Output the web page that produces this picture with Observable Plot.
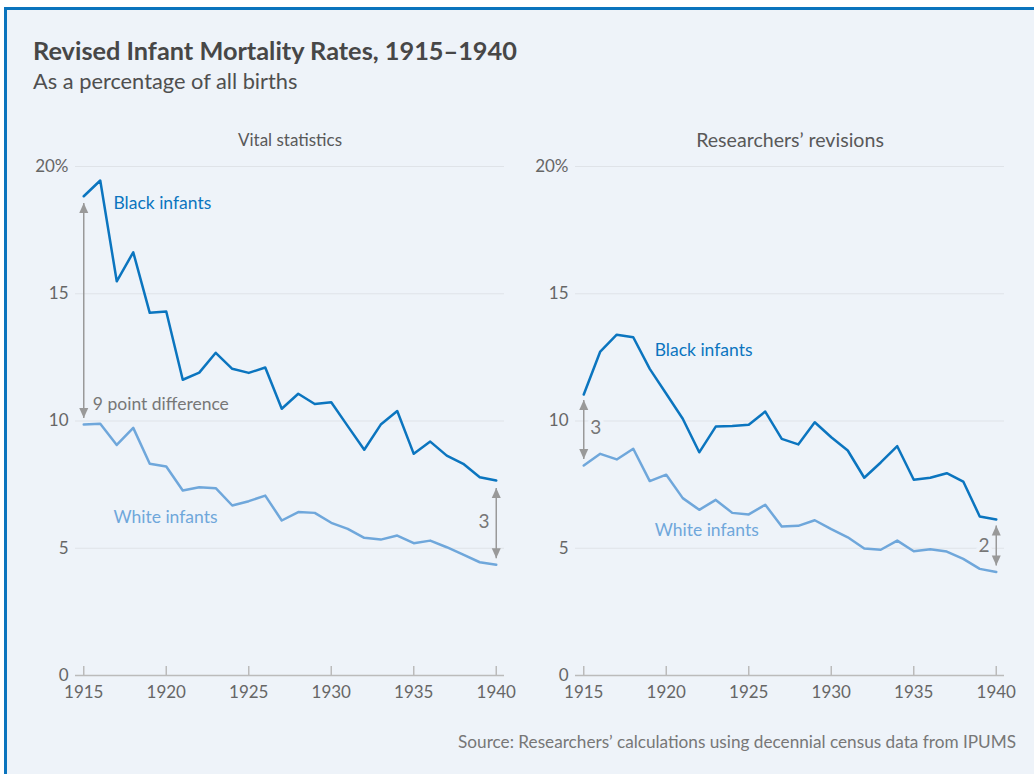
<!DOCTYPE html>
<html>
<head>
<meta charset="utf-8">
<script src="https://cdn.jsdelivr.net/npm/d3@7"></script>
<script src="https://cdn.jsdelivr.net/npm/@observablehq/plot@0.6"></script>
<style>
  html, body { margin: 0; padding: 0; background: #ffffff; width: 1034px; height: 774px; overflow: hidden; }
  #frame { position: absolute; left: 4px; top: 7px; width: 1040px; height: 780px;
           border-left: 3px solid #0b74bd; border-top: 3px solid #0b74bd; background: #eef3f9; }
  .abs { position: absolute; font-family: Lato, "Open Sans", sans-serif; }
  #title { left: 33px; top: 35px; font-size: 25.3px; font-weight: 700; color: #474747; white-space: nowrap; }
  #subtitle { left: 33px; top: 67px; font-size: 21.8px; color: #4f4f4f; white-space: nowrap; }
  #source { right: 18px; top: 731px; font-size: 17.2px; color: #777; white-space: nowrap; }
  #left { left: 0px; top: 120px; }
  #right { left: 500px; top: 120px; }
</style>
</head>
<body>
<div id="frame"></div>
<div id="title" class="abs">Revised Infant Mortality Rates, 1915–1940</div>
<div id="subtitle" class="abs">As a percentage of all births</div>
<div id="left" class="abs"></div>
<div id="right" class="abs"></div>
<div id="source" class="abs">Source: Researchers’ calculations using decennial census data from IPUMS</div>
<script>
// ---- data ----
const years = [1915,1916,1917,1918,1919,1920,1921,1922,1923,1924,1925,1926,1927,
               1928,1929,1930,1931,1932,1933,1934,1935,1936,1937,1938,1939,1940];
const vitalBlack = [18.83,19.45,15.49,16.63,14.25,14.30,11.62,11.90,12.68,12.05,11.89,12.10,10.48,
                    11.07,10.67,10.74,9.80,8.87,9.86,10.39,8.71,9.19,8.64,8.32,7.79,7.66];
const vitalWhite = [9.86,9.89,9.06,9.73,8.32,8.21,7.27,7.40,7.36,6.68,6.85,7.07,6.09,
                    6.42,6.39,6.00,5.76,5.41,5.34,5.50,5.20,5.30,5.04,4.75,4.45,4.35];
const revisedBlack = [11.04,12.73,13.39,13.29,12.05,11.07,10.09,8.77,9.78,9.80,9.85,10.37,9.30,
                      9.08,9.95,9.36,8.84,7.77,8.37,9.01,7.69,7.77,7.95,7.62,6.25,6.13];
const revisedWhite = [8.25,8.71,8.49,8.91,7.64,7.89,6.97,6.51,6.90,6.39,6.33,6.71,5.85,
                      5.88,6.10,5.75,5.43,4.99,4.94,5.30,4.88,4.96,4.87,4.58,4.19,4.07];
const panelTitles = ["Vital statistics", "Researchers’ revisions"];
const seriesNames = ["Black infants", "White infants"];
const yTicks = [0, 5, 10, 15, 20];
const xTicks = [1915, 1920, 1925, 1930, 1935, 1940];
// series label anchor positions (year, value)
const vitalLabels = [{year: 1916.8, value: 18.55, name: "Black infants"}, {year: 1916.8, value: 6.2, name: "White infants"}];
const revisedLabels = [{year: 1919.3, value: 12.78, name: "Black infants"}, {year: 1919.3, value: 5.72, name: "White infants"}];
// gap arrows: year, upper tip, lower tip
const vitalArrows = [{year: 1915, top: 18.57, bottom: 10.12}, {year: 1940, top: 7.37, bottom: 4.61}];
const revisedArrows = [{year: 1915, top: 10.83, bottom: 8.51}, {year: 1940, top: 5.89, bottom: 4.32}];
// gap notes
const vitalNotes = [{year: 1915.55, value: 10.65, text: "9 point difference", anchor: "start", size: 17.5},
                    {year: 1939.6, value: 6.02, text: "3", anchor: "end", size: 19}];
const revisedNotes = [{year: 1915.4, value: 9.72, text: "3", anchor: "start", size: 19},
                      {year: 1939.6, value: 5.08, text: "2", anchor: "end", size: 19}];

// ---- styles ----
const BG = "#eef3f9";
const C_BLACK = "#0b75bf";
const C_WHITE = "#6fa7db";
const GREY = "#999999";
const FONT = "Lato, 'Open Sans', sans-serif";

const tipUp = {draw(ctx) { ctx.moveTo(0, 0); ctx.lineTo(4.5, 10); ctx.lineTo(-4.5, 10); ctx.closePath(); }};
const tipDown = {draw(ctx) { ctx.moveTo(0, 0); ctx.lineTo(4.5, -10); ctx.lineTo(-4.5, -10); ctx.closePath(); }};

function noteMarks(notes, anchor) {
  return Plot.text(notes.filter(d => d.anchor === anchor), {
    x: "year", y: "value", text: "text", textAnchor: anchor, fontSize: d => d.size,
    fill: "#777", stroke: BG, strokeWidth: 8
  });
}

function panel(title, black, white, labels, arrows, notes, titleSize) {
  const rows = [];
  years.forEach((yr, i) => {
    rows.push({year: yr, value: black[i], series: "Black infants"});
    rows.push({year: yr, value: white[i], series: "White infants"});
  });
  const height = 595, marginTop = 46, marginBottom = 40;
  const tickTop = 20 * 9 / (height - marginTop - marginBottom);
  return Plot.plot({
    width: 520, height, marginLeft: 75, marginRight: 16, marginTop, marginBottom,
    x: {domain: [1914.5, 1940.5]},
    y: {domain: [0, 20]},
    style: {background: "transparent", fontFamily: FONT, fontSize: "17px", color: "#666", overflow: "visible"},
    marks: [
      Plot.ruleY(yTicks.filter(d => d > 0), {y: d => d, stroke: "#dfe3e8", strokeWidth: 1}),
      Plot.axisY(yTicks, {tickSize: 0, tickPadding: 7, label: null, fontSize: 17, fill: "#666",
                          tickFormat: d => d === 20 ? "20%" : String(d)}),
      Plot.axisX(xTicks, {tickSize: 0, tickPadding: 10, label: null, fontSize: 17, fill: "#666",
                          tickFormat: d => String(d)}),
      Plot.ruleX(xTicks, {x: d => d, y1: 0, y2: tickTop, stroke: "#bbbbbb", strokeWidth: 1.5}),
      Plot.ruleY([0], {stroke: "#bbbbbb", strokeWidth: 1.5}),
      Plot.line(rows, {x: "year", y: "value", z: "series",
                       stroke: d => d.series === "Black infants" ? C_BLACK : C_WHITE, strokeWidth: 2.5}),
      Plot.text(labels, {x: "year", y: "value", text: "name", textAnchor: "start", fontSize: 17.5,
                         fill: d => d.name === "Black infants" ? C_BLACK : C_WHITE}),
      noteMarks(notes, "start"),
      noteMarks(notes, "end"),
      Plot.link(arrows, {x1: "year", x2: "year", y1: "top", y2: "bottom", stroke: GREY, strokeWidth: 1.5}),
      Plot.dot(arrows, {x: "year", y: "top", symbol: tipUp, fill: GREY, stroke: "none", r: 1}),
      Plot.dot(arrows, {x: "year", y: "bottom", symbol: tipDown, fill: GREY, stroke: "none", r: 1}),
      Plot.text([title], {frameAnchor: "top", dy: -26, lineAnchor: "middle", fontSize: titleSize, fill: "#595959"})
    ]
  });
}

document.getElementById("left").append(panel(panelTitles[0], vitalBlack, vitalWhite, vitalLabels, vitalArrows, vitalNotes, 17));
document.getElementById("right").append(panel(panelTitles[1], revisedBlack, revisedWhite, revisedLabels, revisedArrows, revisedNotes, 19.6));
</script>
</body>
</html>
